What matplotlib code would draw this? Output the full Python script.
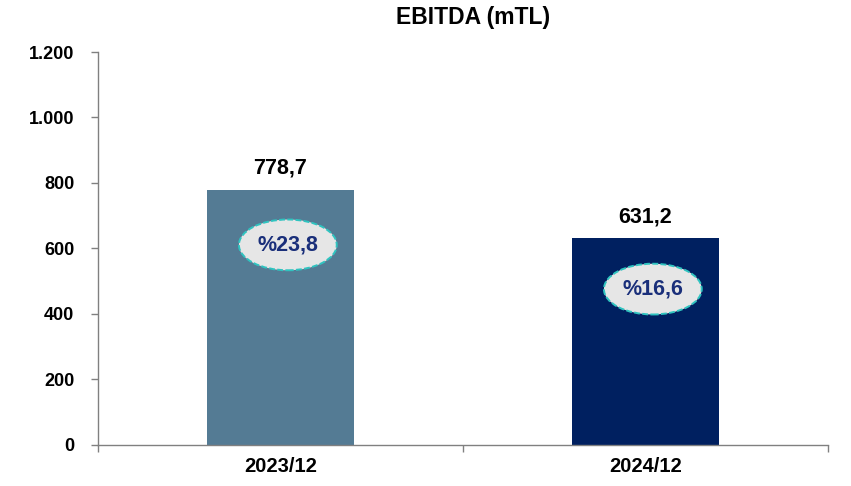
import matplotlib.pyplot as plt
from matplotlib.patches import Ellipse

plt.rcParams['font.family'] = ['Liberation Sans', 'DejaVu Sans']

# Data
categories = ["2023/12", "2024/12"]
ebitda = [778.7, 631.2]
value_labels = ["778,7", "631,2"]
margin_labels = ["%23,8", "%16,6"]
margin_label_y = [611, 476]  # vertical spot of the margin bubbles (data units)
yticks = [0, 200, 400, 600, 800, 1000, 1200]
ytick_labels = ["0", "200", "400", "600", "800", "1.000", "1.200"]

bar_colors = ["#547b94", "#002060"]
axis_grey = "#808080"

fig = plt.figure(figsize=(8.51, 4.86), dpi=100)
ax = fig.add_axes([0.1152, 0.0844, 0.8578, 0.8086])

x = list(range(len(categories)))
ax.bar(x, ebitda, width=0.405, color=bar_colors, zorder=2)

# value labels above bars
for xi, v, lab in zip(x, ebitda, value_labels):
    ax.annotate(lab, (xi, v), xytext=(0, 8), textcoords="offset points",
                ha="center", va="bottom", fontsize=15.5, fontweight="bold",
                color="black")

# margin bubbles
for xi, ym, lab in zip(x, margin_label_y, margin_labels):
    cx = xi + 0.02
    e = Ellipse((cx, ym), width=0.268, height=155, facecolor="#e6e6e6",
                edgecolor="#2fc4c0", linewidth=1.4, linestyle=(0, (3, 1.2)),
                zorder=3)
    ax.add_patch(e)
    ax.text(cx, ym, lab, ha="center", va="center", fontsize=15.5,
            fontweight="bold", color="#1a2f7a", zorder=4)

ax.set_xlim(-0.5, 1.5)
ax.set_ylim(0, 1200)
ax.set_yticks(yticks)
ax.set_yticklabels(ytick_labels, fontsize=13, fontweight="bold")

# category labels between boundary ticks
ax.set_xticks([-0.5, 0.5, 1.5])
ax.set_xticklabels([])
ax.set_xticks(x, minor=True)
ax.set_xticklabels(categories, minor=True, fontsize=14.5, fontweight="bold")
ax.tick_params(axis="x", which="minor", length=0, pad=9)
ax.tick_params(axis="x", which="major", length=5, color=axis_grey, width=1)
ax.tick_params(axis="y", length=5, color=axis_grey, width=1, pad=12)

for side in ["top", "right"]:
    ax.spines[side].set_visible(False)
for side in ["left", "bottom"]:
    ax.spines[side].set_color(axis_grey)
    ax.spines[side].set_linewidth(1)

fig.text(0.556, 0.963, "EBITDA (mTL)", ha="center", va="center",
         fontsize=16.5, fontweight="bold")

fig.savefig("out.png", dpi=100)
